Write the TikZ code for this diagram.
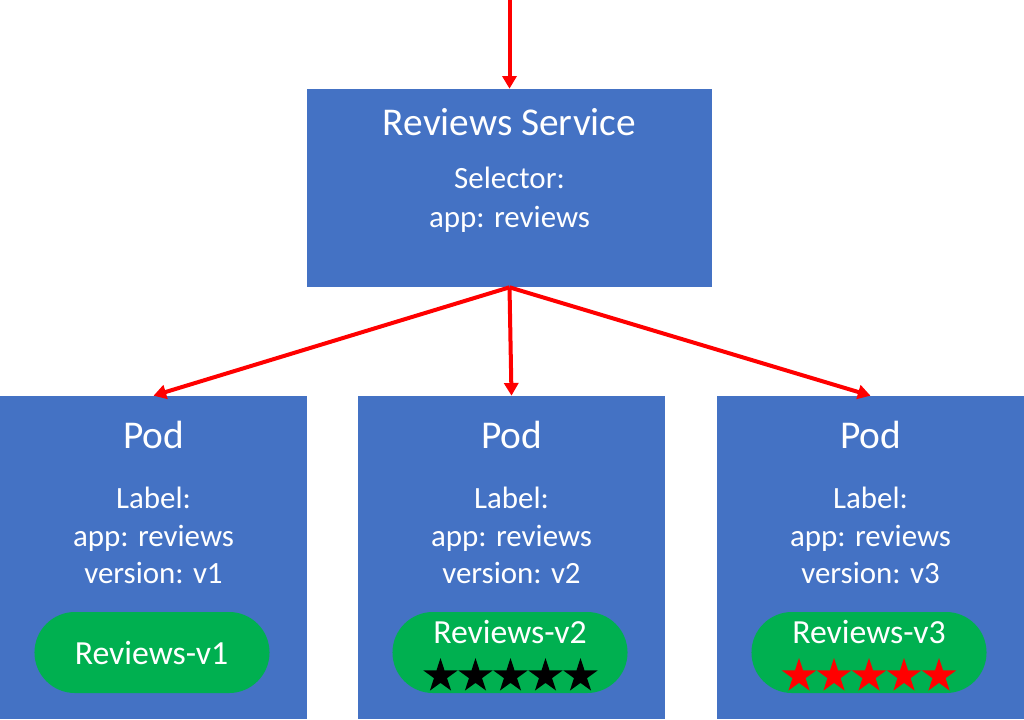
\documentclass[tikz,border=0pt]{standalone}
\usepackage{fontspec}
\setmainfont{Carlito}
\usetikzlibrary{shapes.geometric}
\usetikzlibrary{arrows.meta}
\definecolor{boxblue}{HTML}{4472C4}
\definecolor{pillgreen}{HTML}{00B050}
\definecolor{arrowred}{HTML}{FF0000}

\begin{document}
\begin{tikzpicture}[x=0.025cm,y=-0.025cm,
    box/.style={rectangle,fill=boxblue,inner sep=0pt},
    pill/.style={rectangle,rounded corners=1.0125cm,fill=pillgreen,minimum width=5.875cm,minimum height=2.025cm,inner sep=0pt},
    big/.style={text=white,anchor=base,inner sep=0pt,font=\fontsize{28}{34}\selectfont},
    small/.style={text=white,anchor=base,inner sep=0pt,font=\fontsize{22}{26}\selectfont},
    app/.style={text=white,anchor=base,inner sep=0pt,font=\fontsize{24}{29}\selectfont},
    rating/.style={star,star points=5,star point ratio=2.618,minimum size=0.9cm,inner sep=0pt,fill=#1},
    link/.style={draw=arrowred,line width=2.85pt,-{Triangle[length=9pt,width=10pt]}}]
    \useasboundingbox[fill=white] (0,0) rectangle (1024,719);

    % service
    \node[box,minimum width=10.125cm,minimum height=4.95cm] (service) at (509.5,188) {};
    \node[big] (svctitle) at (509.5,135) {Reviews Service};
    \node[small] (svcsel) at (509.5,188) {Selector:};
    \node[small] (svcapp) at (509.5,227) {app: reviews};
    \coordinate (in) at (509.5,0);

    % pods
    \foreach \i/\x in {1/153.5,2/511.5,3/870.5} {
        \node[box,minimum width=7.675cm,minimum height=8.075cm] (pod\i) at (\x,557.5) {};
        \node[big] (podtitle\i) at (\x,448) {Pod};
        \node[small] (podlabel\i) at (\x,508) {Label:};
        \node[small] (podapp\i) at (\x,546) {app: reviews};
        \node[small] (podver\i) at (\x,583) {version: v\i};
        \node[pill] (pill\i) at (\x-1.5,652.5) {};
    }
    \node[app] (rev1) at (151.5,664) {Reviews-v1};
    \node[app] (rev2) at (510,643) {Reviews-v2};
    \node[app] (rev3) at (869,643) {Reviews-v3};

    % stars
    \foreach \k in {1,...,5} {
        \node[rating=black] (stara\k) at (510.5+35*\k-105,676) {};
        \node[rating=arrowred] (starb\k) at (869+35*\k-105,676) {};
    }

    \draw[link] (in) -- (service.north);
    \draw[link] (service.south) -- (pod1.north);
    \draw[link] (service.south) -- (pod2.north);
    \draw[link] (service.south) -- (pod3.north);
\end{tikzpicture}
\end{document}
